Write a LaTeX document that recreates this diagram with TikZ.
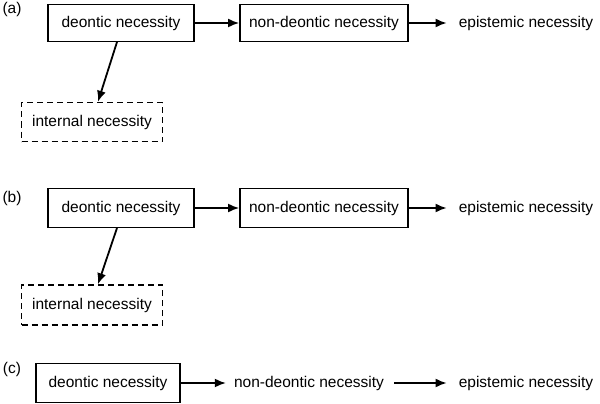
\documentclass[tikz,border=0pt]{standalone}
\usepackage{fontspec}
\setmainfont{Liberation Sans}
\usetikzlibrary{arrows.meta}
\begin{document}
\begin{tikzpicture}[x=1pt,y=-1pt,font=\fontsize{15.5}{18}\selectfont,
  bx/.style={draw,line width=1.8pt,minimum height=37pt,inner sep=0pt},
  dbx/.style={bx,dash pattern=on 6pt off 4pt,line width=1.5pt},
  arr/.style={-{Latex[length=11pt,width=9pt]},line width=1.8pt},
  lbl/.style={inner sep=0pt}]
\useasboundingbox (0,0) rectangle (600,404);
\fill[white] (0,0) rectangle (600,404);
% (a)
\node[lbl] (la) at (12,9) {(a)};
\node[bx,minimum width=146pt] (a1) at (121,23) {deontic necessity};
\node[bx,minimum width=168pt] (a2) at (324,23) {non-deontic necessity};
\node[lbl] (a3) at (526,23) {epistemic necessity};
\node[dbx,minimum width=141pt,minimum height=39pt] (a4) at (92,122) {internal necessity};
\draw[arr] (a1) -- (a2);
\draw[arr] (a2) -- ([xshift=-12pt]a3.west);
\draw[arr] (117,42) -- (a4.north -| 98,0);
% (b)
\node[lbl] (lb) at (12,198) {(b)};
\node[bx,minimum width=146pt,minimum height=39pt] (b1) at (121,208) {deontic necessity};
\node[bx,minimum width=168pt,minimum height=39pt] (b2) at (324,208) {non-deontic necessity};
\node[lbl] (b3) at (526,208) {epistemic necessity};
\node[dbx,minimum width=141pt,minimum height=40pt] (b4) at (92,305) {internal necessity};
\draw[arr] (b1) -- (b2);
\draw[arr] (b2) -- ([xshift=-12pt]b3.west);
\draw[arr] (117,228) -- (b4.north -| 98,0);
% (c)
\node[lbl] (lc) at (12,369) {(c)};
\node[bx,minimum width=144pt,minimum height=39pt] (c1) at (108,383) {deontic necessity};
\node[lbl] (c2) at (309,383) {non-deontic necessity};
\node[lbl] (c3) at (526,383) {epistemic necessity};
\draw[arr] (c1) -- ([xshift=-8pt]c2.west);
\draw[arr] ([xshift=10pt]c2.east) -- ([xshift=-12pt]c3.west);
\end{tikzpicture}
\end{document}
